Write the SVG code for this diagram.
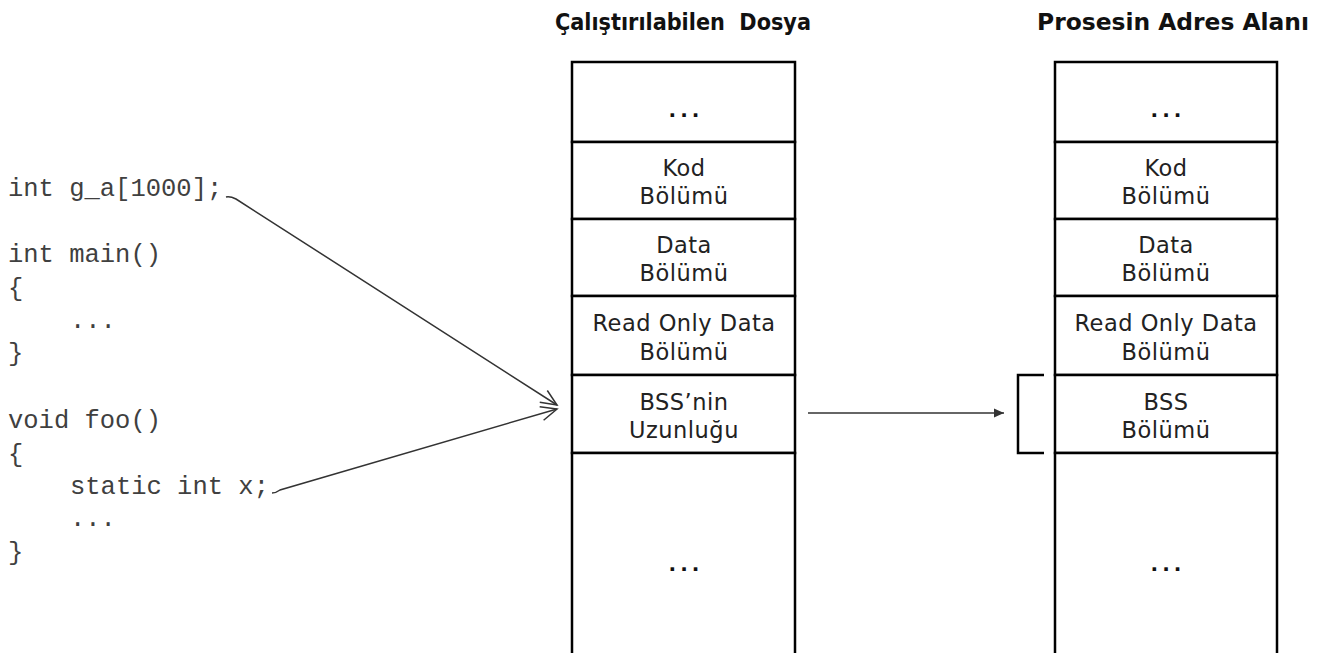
<svg xmlns="http://www.w3.org/2000/svg" width="1327" height="653" viewBox="0 0 1327 653">
  <style>
    .code { font-family: "Liberation Mono", "Courier New", monospace; font-size: 25.5px; fill: #404040; }
    .head { font-family: "DejaVu Sans Condensed", "DejaVu Sans", Tahoma, sans-serif; font-stretch: condensed; font-size: 23px; font-weight: bold; fill: #111; }
    .lbl { font-family: "DejaVu Sans", Verdana, sans-serif; font-size: 22.5px; letter-spacing: 0.5px; fill: #222; text-anchor: middle; }
    .dots { font-family: "DejaVu Sans", sans-serif; font-size: 20px; font-weight: bold; fill: #111; text-anchor: middle; letter-spacing: 4px; }
    .cell { fill: #fff; stroke: #000; stroke-width: 2.5; }
    .conn { fill: none; stroke: #333; stroke-width: 1.5; }
  </style>
  <defs>
    <marker id="open" viewBox="0 0 20 20" refX="18" refY="10" markerWidth="20" markerHeight="20" markerUnits="userSpaceOnUse" orient="auto">
      <path d="M2,3 L18,10 L2,17" fill="none" stroke="#333" stroke-width="1.5"/>
    </marker>
    <marker id="small" viewBox="0 0 12 12" refX="11" refY="6" markerWidth="12" markerHeight="12" markerUnits="userSpaceOnUse" orient="auto">
      <path d="M1,1.5 L11,6 L1,10.5 Z" fill="#333"/>
    </marker>
  </defs>
  <rect width="1327" height="653" fill="#fff"/>

  <!-- source code -->
  <g id="source">
    <text class="code" x="8" y="196">int g_a[1000];</text>
    <text class="code" x="8" y="262">int main()</text>
    <text class="code" x="8" y="296">{</text>
    <text class="code" x="70" y="328">...</text>
    <text class="code" x="8" y="361">}</text>
    <text class="code" x="8" y="428">void foo()</text>
    <text class="code" x="8" y="462">{</text>
    <text class="code" x="70" y="494">static int x;</text>
    <text class="code" x="70" y="526">...</text>
    <text class="code" x="8" y="560">}</text>
  </g>

  <!-- executable file layout -->
  <g id="executable">
    <text class="head" x="555" y="30" textLength="256" lengthAdjust="spacingAndGlyphs">Çalıştırılabilen&#160; Dosya</text>
    <rect class="cell" x="572" y="62" width="223" height="80"/>
    <rect class="cell" x="572" y="142" width="223" height="77"/>
    <rect class="cell" x="572" y="219" width="223" height="77"/>
    <rect class="cell" x="572" y="296" width="223" height="79"/>
    <rect class="cell" x="572" y="375" width="223" height="78"/>
    <rect class="cell" x="572" y="453" width="223" height="210"/>
    <text class="dots" x="686" y="117">...</text>
    <text class="lbl" x="684" y="176">Kod</text>
    <text class="lbl" x="684" y="204">Bölümü</text>
    <text class="lbl" x="684" y="253">Data</text>
    <text class="lbl" x="684" y="281">Bölümü</text>
    <text class="lbl" x="684" y="331">Read Only Data</text>
    <text class="lbl" x="684" y="360">Bölümü</text>
    <text class="lbl" x="684" y="410">BSS’nin</text>
    <text class="lbl" x="684" y="438">Uzunluğu</text>
    <text class="dots" x="686" y="571">...</text>
  </g>

  <!-- process address space -->
  <g id="process">
    <text class="head" x="1037" y="30" textLength="272" lengthAdjust="spacingAndGlyphs">Prosesin Adres Alanı</text>
    <rect class="cell" x="1055" y="62" width="222" height="80"/>
    <rect class="cell" x="1055" y="142" width="222" height="77"/>
    <rect class="cell" x="1055" y="219" width="222" height="77"/>
    <rect class="cell" x="1055" y="296" width="222" height="79"/>
    <rect class="cell" x="1055" y="375" width="222" height="78"/>
    <rect class="cell" x="1055" y="453" width="222" height="210"/>
    <text class="dots" x="1168" y="117">...</text>
    <text class="lbl" x="1166" y="176">Kod</text>
    <text class="lbl" x="1166" y="204">Bölümü</text>
    <text class="lbl" x="1166" y="253">Data</text>
    <text class="lbl" x="1166" y="281">Bölümü</text>
    <text class="lbl" x="1166" y="331">Read Only Data</text>
    <text class="lbl" x="1166" y="360">Bölümü</text>
    <text class="lbl" x="1166" y="410">BSS</text>
    <text class="lbl" x="1166" y="438">Bölümü</text>
    <text class="dots" x="1168" y="571">...</text>
    <path d="M1044,375 H1018 V453 H1044" fill="none" stroke="#000" stroke-width="2.5"/>
  </g>

  <!-- connectors -->
  <g id="connectors">
    <path class="conn" d="M226,197 Q230,196 236,199 L557,405" marker-end="url(#open)"/>
    <path class="conn" d="M272,493 Q276,493 280,490 L557,409" marker-end="url(#open)"/>
    <path class="conn" d="M808,413 H1004" marker-end="url(#small)"/>
  </g>
</svg>
